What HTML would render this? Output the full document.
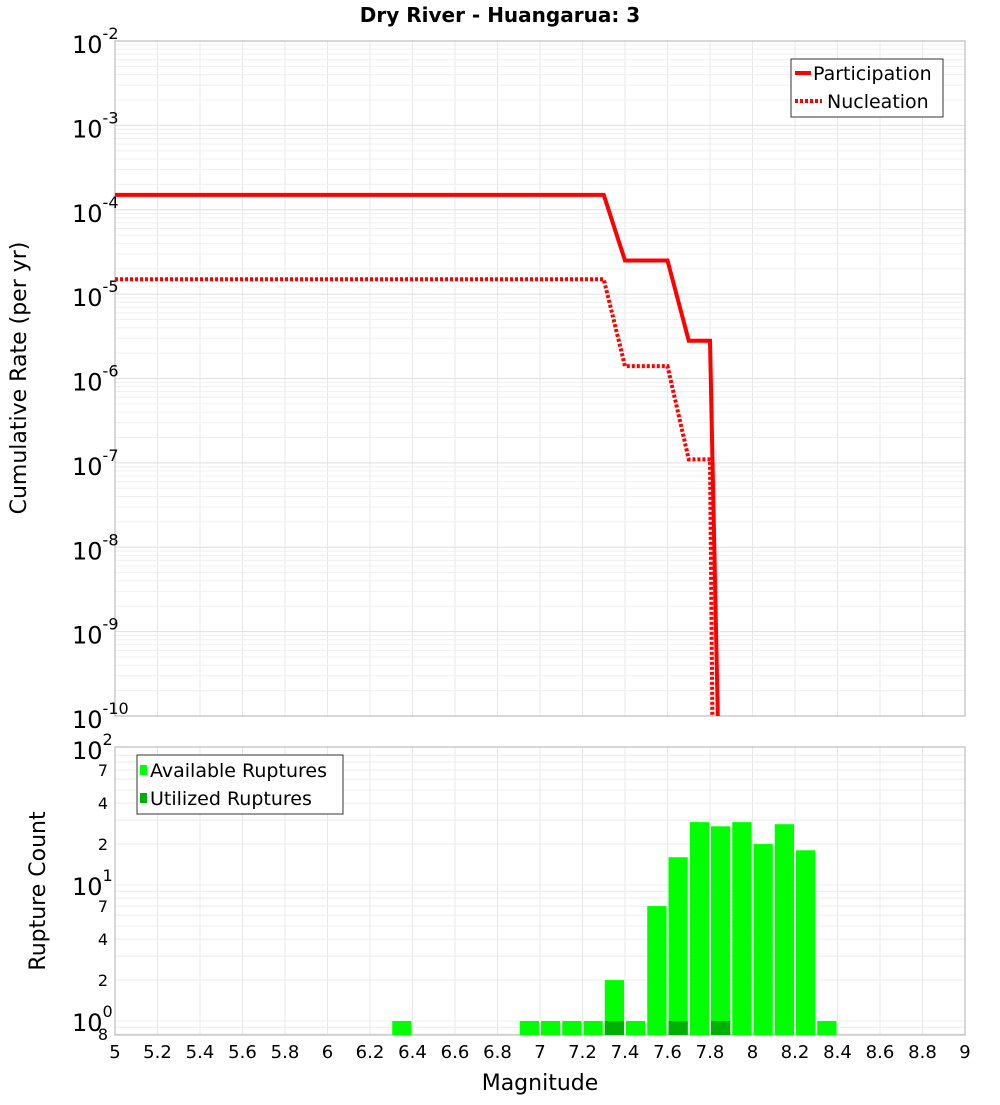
<!DOCTYPE html>
<html><head><meta charset="utf-8"><style>
body{margin:0;background:#fff;width:1000px;height:1100px;overflow:hidden}
text{font-family:"DejaVu Sans","Liberation Sans",sans-serif}
</style></head><body>
<svg id="c" width="1000" height="1100" xmlns="http://www.w3.org/2000/svg"></svg>
<script>
const partMag=[5,7.3,7.4,7.6,7.7,7.8,7.845];
const partRate=[1.5e-4,1.5e-4,2.5e-5,2.5e-5,2.8e-6,2.8e-6,1e-11];
const nuclMag=[5,7.3,7.4,7.6,7.7,7.8,7.815];
const nuclRate=[1.5e-5,1.5e-5,1.4e-6,1.4e-6,1.1e-7,1.1e-7,1e-11];
const binMag=[6.35,6.95,7.05,7.15,7.25,7.35,7.45,7.55,7.65,7.75,7.85,7.95,8.05,8.15,8.25,8.35];
const availCount=[1,1,1,1,1,2,1,7,16,29,27,29,20,28,18,1];
const usedMag=[7.35,7.65,7.85];
const usedCount=[1,1,1];
const xTicks=[5,5.2,5.4,5.6,5.8,6,6.2,6.4,6.6,6.8,7,7.2,7.4,7.6,7.8,8,8.2,8.4,8.6,8.8,9];

const svg=document.getElementById('c');const NS='http://www.w3.org/2000/svg';
function el(t,a,p){const e=document.createElementNS(NS,t);for(const k in a)e.setAttribute(k,a[k]);(p||svg).appendChild(e);return e;}
const L=115,R=965,T1=41,B1=716,T2=747,B2=1035;
const x=m=>L+(m-5)/4*(R-L);
const y1=v=>T1+(-2-Math.log10(v))*(B1-T1)/8;
const y2=v=>1021-Math.log10(v)*136;
// grids
const g=el('g',{});
xTicks.forEach(m=>{el('line',{x1:x(m),x2:x(m),y1:T1,y2:B1,stroke:'#e8e8e8'},g);el('line',{x1:x(m),x2:x(m),y1:T2,y2:B2,stroke:'#e8e8e8'},g);});
for(let e=-10;e<-2;e++)for(let k=1;k<10;k++){const yy=y1(k*Math.pow(10,e));el('line',{x1:L,x2:R,y1:yy,y2:yy,stroke:k==1?'#e0e0e0':'#f0f0f0'},g);}
for(let e=-1;e<2;e++)for(let k=1;k<10;k++){const yy=y2(k*Math.pow(10,e));if(yy>T2&&yy<B2)el('line',{x1:L,x2:R,y1:yy,y2:yy,stroke:'#ececec'},g);}
el('rect',{x:L,y:T1,width:R-L,height:B1-T1,fill:'none',stroke:'#b0b0b0'});
el('rect',{x:L,y:T2,width:R-L,height:B2-T2,fill:'none',stroke:'#b0b0b0'});
// title
const t=el('text',{x:500,y:22,'text-anchor':'middle','font-size':20,'font-weight':'bold'});t.textContent='Dry River - Huangarua: 3';

// top y ticks
for(let e=-10;e<=-2;e++){const yy=y1(Math.pow(10,e));const tx=el('text',{x:72,y:yy+12,'font-size':24});tx.textContent='10';const s=el('tspan',{dy:-14,'font-size':16});s.textContent=String(e);tx.appendChild(s);}
const yt=el('text',{x:26,y:378,'font-size':22,'text-anchor':'middle',transform:'rotate(-90 26 378)'});yt.textContent='Cumulative Rate (per yr)';

// lines
const clip=el('clipPath',{id:'cp'});el('rect',{x:L,y:T1,width:R-L,height:B1-T1},clip);
const pl=el('polyline',{points:partMag.map((m,i)=>x(m)+','+y1(partRate[i])).join(' '),fill:'none',stroke:'#f00','stroke-width':4,'clip-path':'url(#cp)'});

const nl=el('polyline',{points:nuclMag.map((m,i)=>x(m)+','+y1(nuclRate[i])).join(' '),fill:'none',stroke:'#f00','stroke-width':4,'stroke-dasharray':'3,2','clip-path':'url(#cp)'});

// legend top
const lg=el('g',{});
el('rect',{x:791,y:59,width:152,height:58,fill:'#fff',stroke:'#333'},lg);
el('line',{x1:795,x2:811,y1:73,y2:73,stroke:'#f00','stroke-width':4},lg);
el('line',{x1:795,x2:822,y1:101,y2:101,stroke:'#f00','stroke-width':4,'stroke-dasharray':'3,2'},lg);
let a=el('text',{x:813,y:80,'font-size':19},lg);a.textContent='Participation';
a=el('text',{x:827,y:108,'font-size':19},lg);a.textContent='Nucleation';
// bottom bars
const bw=(R-L)/40;
binMag.forEach((m,i)=>{const r=el('rect',{x:x(m)-bw/2+1,y:y2(availCount[i]),width:bw-2,height:B2-y2(availCount[i]),fill:'#00ff00'});
});
usedMag.forEach((m,i)=>{const r=el('rect',{x:x(m)-bw/2+1,y:y2(usedCount[i]),width:bw-2,height:B2-y2(usedCount[i]),fill:'#00b000'});
});
// bottom y ticks
[[100,'10','2'],[10,'10','1'],[1,'10','0']].forEach(d=>{const yy=y2(d[0]);const tx=el('text',{x:72,y:yy+10,'font-size':24});tx.textContent=d[1];const s=el('tspan',{dy:-14,'font-size':16});s.textContent=d[2];tx.appendChild(s);});
[2,4,7,20,40,70].forEach(v=>{const tx=el('text',{x:108,y:y2(v)+6,'font-size':16,'text-anchor':'end'});tx.textContent=String(v).charAt(0);});
a=el('text',{x:108,y:1040,'font-size':16,'text-anchor':'end'});a.textContent='8';
const yb=el('text',{x:45,y:891,'font-size':22,'text-anchor':'middle',transform:'rotate(-90 45 891)'});yb.textContent='Rupture Count';

// x ticks
xTicks.forEach(m=>{const tx=el('text',{x:x(m),y:1058,'font-size':18,'text-anchor':'middle'});tx.textContent=String(m);});
const xt=el('text',{x:540,y:1090,'font-size':22,'text-anchor':'middle'});xt.textContent='Magnitude';

// legend bottom
const lb=el('g',{});
el('rect',{x:137,y:755,width:206,height:59,fill:'#fff',stroke:'#333'},lb);
el('rect',{x:140,y:765,width:7,height:10,fill:'#00ff00'},lb);
el('rect',{x:140,y:793,width:7,height:10,fill:'#00b000'},lb);
a=el('text',{x:150,y:777,'font-size':19},lb);a.textContent='Available Ruptures';
a=el('text',{x:150,y:805,'font-size':19},lb);a.textContent='Utilized Ruptures';
</script></body></html>
